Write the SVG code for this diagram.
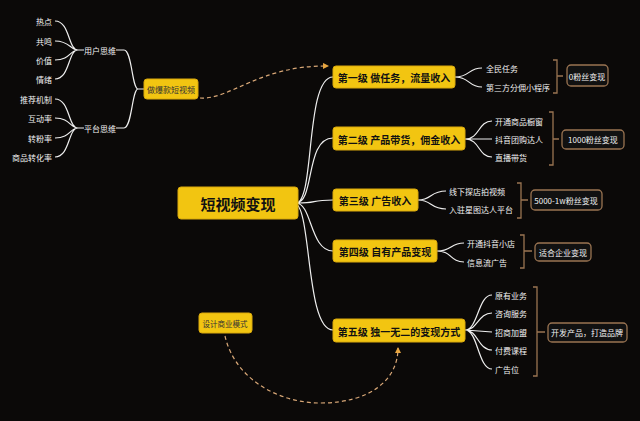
<svg xmlns="http://www.w3.org/2000/svg" width="640" height="421" viewBox="0 0 640 421">
<defs>
<style>
text{font-family:"Noto Sans CJK SC","Liberation Sans",sans-serif;}
.w{fill:#f2f2f2;font-size:8px;dominant-baseline:central}
.b{fill:#111;font-size:10px;font-weight:bold;dominant-baseline:central}
.y{fill:#f2c511;stroke:#d9a80c;stroke-width:1}
.l{fill:none;stroke:#eee;stroke-width:1.2}
.br{fill:none;stroke:#9a7452;stroke-width:1.3}
.bx{fill:#111;stroke:#9a7452;stroke-width:1.3}
.d{fill:none;stroke:#d9a877;stroke-width:1.2;stroke-dasharray:4 3}
</style>
<marker id="a" viewBox="0 0 6 6" refX="5" refY="3" markerWidth="5" markerHeight="5" orient="auto"><path d="M0,0L6,3L0,6z" fill="#e8a640"/></marker>
</defs>
<rect width="640" height="421" fill="#0b0908"/>
<g id="connectors">
<path class="l" d="M296,203C315,203 305,77 333,77M296,203C315,203 305,138 333,138M298,203C318,203 310,200 333,200M296,203C312,203 310,251 333,251M294,203C312,203 305,330 333,330"/>
<path class="l" d="M455,77C470,77 468,68 482,68M455,77C470,77 468,87 482,87"/>
<path class="l" d="M465,139C480,139 478,121 492,121M465,139L492,139M465,139C480,139 478,157 492,157"/>
<path class="l" d="M418,200C432,200 430,191 446,191M418,200C432,200 430,209 446,209"/>
<path class="l" d="M437,251C452,251 450,243 464,243M437,251C452,251 450,262 464,262"/>
<path class="l" d="M465,330C478,330 478,295 492,295M465,330C478,330 478,313 492,313M465,330L492,332M465,330C478,330 478,350 492,350M465,330C478,330 478,369 492,369"/>
<path class="br" d="M553,60h4v33h-4M557,76h6M549,112h4v53h-4M553,139h6M517,183h4v35h-4M521,200h7M520,235h4v33h-4M524,251h8M533,287h4v89h-4M537,332h8"/>
<path class="l" d="M55,21C70,21 68,50 78,50M55,41C70,41 70,50 78,50M55,60C70,60 70,50 78,50M55,79C70,79 68,50 78,50M78,50H84"/>
<path class="l" d="M55,99C70,99 68,128 78,128M55,118C70,118 70,128 78,128M55,138C70,138 70,128 78,128M55,157C70,157 68,128 78,128M78,128H84"/>
<path class="l" d="M116,50H124C132,50 132,89 138,89H144M116,128H124C132,128 132,89 138,89"/>
<path class="d" d="M200,98C230,100 260,65 328,66" marker-end="url(#a)"/>
<path class="d" d="M225,336C235,380 280,403 320,403C370,403 398,380 398,348" marker-end="url(#a)"/>
</g>
<g id="center"><rect class="y" x="178" y="187" width="120" height="32" rx="3"/><text class="b" x="238" y="203" text-anchor="middle" style="font-size:15px">短视频变现</text></g>
<g id="l1"><rect class="y" x="333" y="66" width="122" height="22" rx="3"/><text class="b" x="394" y="77" text-anchor="middle">第一级 做任务，流量收入</text></g>
<g id="l2"><rect class="y" x="333" y="127" width="132" height="23" rx="3"/><text class="b" x="399" y="139" text-anchor="middle">第二级 产品带货，佣金收入</text></g>
<g id="l3"><rect class="y" x="333" y="189" width="85" height="22" rx="3"/><text class="b" x="375" y="200" text-anchor="middle">第三级 广告收入</text></g>
<g id="l4"><rect class="y" x="333" y="240" width="104" height="22" rx="3"/><text class="b" x="385" y="251" text-anchor="middle">第四级 自有产品变现</text></g>
<g id="l5"><rect class="y" x="333" y="319" width="132" height="23" rx="3"/><text class="b" x="399" y="331" text-anchor="middle">第五级 独一无二的变现方式</text></g>
<g id="subs">
<text class="w" x="486" y="68">全民任务</text><text class="w" x="486" y="87">第三方分佣小程序</text>
<text class="w" x="495" y="121">开通商品橱窗</text><text class="w" x="495" y="139">抖音团购达人</text><text class="w" x="495" y="157">直播带货</text>
<text class="w" x="449" y="191">线下探店拍视频</text><text class="w" x="449" y="209">入驻星图达人平台</text>
<text class="w" x="467" y="243">开通抖音小店</text><text class="w" x="467" y="262">信息流广告</text>
<text class="w" x="495" y="295">原有业务</text><text class="w" x="495" y="313">咨询服务</text><text class="w" x="495" y="332">招商加盟</text><text class="w" x="495" y="350">付费课程</text><text class="w" x="495" y="369">广告位</text>
</g>
<g id="r1"><rect class="bx" x="567" y="65" width="41" height="21" rx="4"/><text class="w" x="587" y="76" text-anchor="middle">0粉丝变现</text></g>
<g id="r2"><rect class="bx" x="562" y="130" width="62" height="19" rx="4"/><text class="w" x="593" y="139" text-anchor="middle">1000粉丝变现</text></g>
<g id="r3"><rect class="bx" x="531" y="190" width="71" height="20" rx="4"/><text class="w" x="566" y="200" text-anchor="middle">5000-1w粉丝变现</text></g>
<g id="r4"><rect class="bx" x="535" y="243" width="56" height="18" rx="4"/><text class="w" x="563" y="252" text-anchor="middle">适合企业变现</text></g>
<g id="r5"><rect class="bx" x="548" y="323" width="79" height="19" rx="4"/><text class="w" x="587" y="332" text-anchor="middle">开发产品，打造品牌</text></g>
<g id="left">
<rect class="y" x="144" y="79" width="54" height="20" rx="3"/><text class="w" x="171" y="89" text-anchor="middle" style="fill:#333">做爆款短视频</text>
<text class="w" x="100" y="50" text-anchor="middle">用户思维</text><text class="w" x="100" y="128" text-anchor="middle">平台思维</text>
<g text-anchor="end"><text class="w" x="52" y="21">热点</text><text class="w" x="52" y="41">共鸣</text><text class="w" x="52" y="60">价值</text><text class="w" x="52" y="79">情绪</text>
<text class="w" x="52" y="99">推荐机制</text><text class="w" x="52" y="118">互动率</text><text class="w" x="52" y="138">转粉率</text><text class="w" x="52" y="157">商品转化率</text></g>
</g>
<g id="biz"><rect class="y" x="199" y="313" width="53" height="20" rx="3"/><text class="w" x="225" y="323" text-anchor="middle" style="fill:#333;font-size:7.5px">设计商业模式</text></g>
</svg>
